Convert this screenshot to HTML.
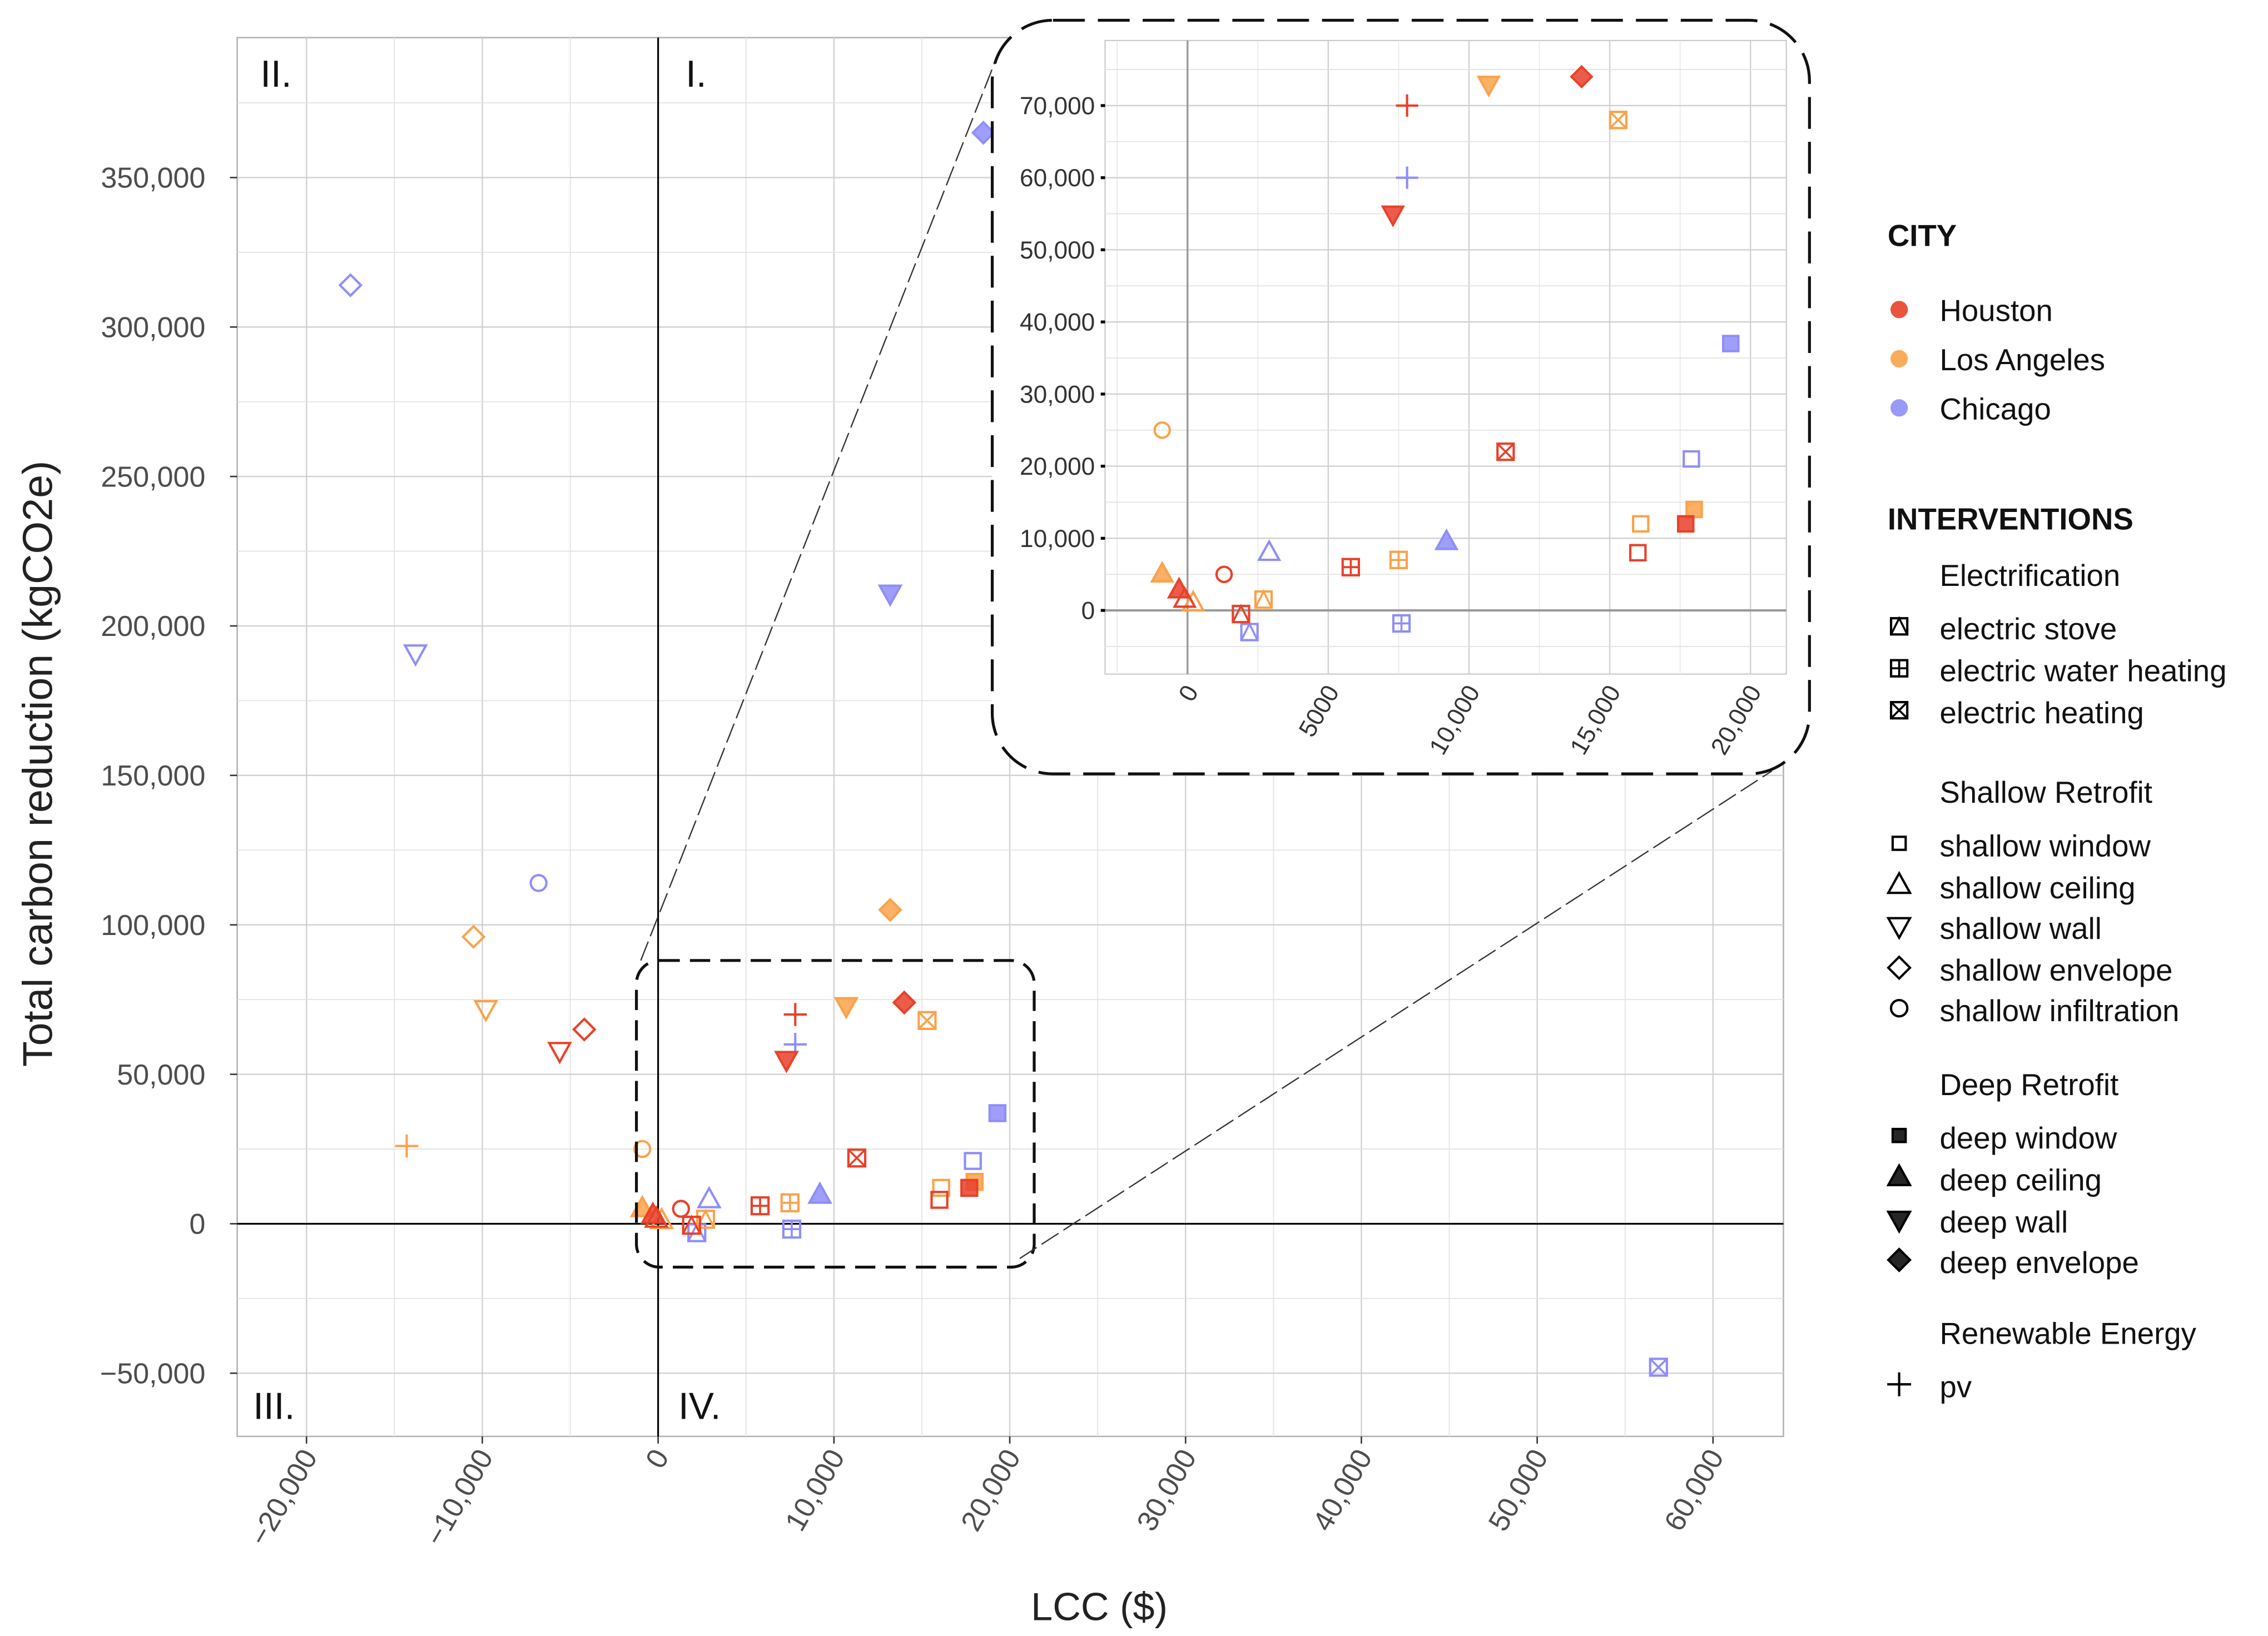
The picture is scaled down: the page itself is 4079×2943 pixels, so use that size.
<!DOCTYPE html>
<html><head><meta charset="utf-8">
<style>
html,body{margin:0;padding:0;background:#fff;}
svg{display:block;font-family:"Liberation Sans",sans-serif;}
</style></head>
<body>
<svg id="chart" width="4079" height="2943" viewBox="0 0 1568 1131" preserveAspectRatio="none" xmlns="http://www.w3.org/2000/svg">
<rect x="0" y="0" width="1568" height="1131" fill="#fff"/>
<g id="main"></g>
<g id="inset"></g>
<g id="legend"></g>
</svg>
<script>
const cities = ["Houston","Los Angeles","Chicago"];
const cityColors = ["#E8412A","#F9A24A","#8E8EF8"];
const pointCity = [2,2,2,2,2,2,2,2,2,2,2,2,2, 1,1,1,1,1,1,1,1,1,1,1,1,1, 0,0,0,0,0,0,0,0,0,0,0,0,0];
const pointType = [
"shallow envelope","shallow wall","shallow infiltration","deep envelope","deep wall","electric heating","pv","deep window","shallow window","deep ceiling","shallow ceiling","electric water heating","electric stove",
"shallow envelope","shallow wall","pv","shallow infiltration","deep envelope","deep wall","electric heating","shallow window","deep window","electric water heating","electric stove","shallow ceiling","deep ceiling",
"shallow envelope","shallow wall","pv","deep wall","deep envelope","electric heating","electric water heating","shallow window","deep window","shallow infiltration","deep ceiling","electric stove","shallow ceiling"];
const pointLCC = [
-17500,-13800,-6800,18500,13200,56900,7800,19300,17900,9200,2900,7600,2200,
-10500,-9800,-14300,-900,13200,10700,15300,16100,18000,7500,2700,200,-900,
-4200,-5600,7800,7300,14000,11300,5800,16000,17700,1300,-300,1900,-100];
const pointCO2 = [
314000,191000,114000,365000,211000,-48000,60000,37000,21000,9500,8000,-1800,-3000,
96000,72000,26000,25000,105000,73000,68000,12000,14000,7000,1500,1000,5000,
65000,58000,70000,55000,74000,22000,6000,8000,12000,5000,2800,-500,1500];
const mainXTicks = [-20000,-10000,0,10000,20000,30000,40000,50000,60000];
const mainXLabels = ["\u221220,000","\u221210,000","0","10,000","20,000","30,000","40,000","50,000","60,000"];
const mainYTicks = [-50000,0,50000,100000,150000,200000,250000,300000,350000];
const mainYLabels = ["\u221250,000","0","50,000","100,000","150,000","200,000","250,000","300,000","350,000"];
const insetXTicks = [0,5000,10000,15000,20000];
const insetXLabels = ["0","5000","10,000","15,000","20,000"];
const insetYTicks = [0,10000,20000,30000,40000,50000,60000,70000];
const insetYLabels = ["0","10,000","20,000","30,000","40,000","50,000","60,000","70,000"];

const NS="http://www.w3.org/2000/svg";
function mk(tag,attrs,parent){const e=document.createElementNS(NS,tag);for(const k in attrs)e.setAttribute(k,attrs[k]);if(parent)parent.appendChild(e);return e;}

function marker(g,type,cx,cy,s,color){
  const grp=mk("g",{},g);
  
  
  const filled=type.startsWith("deep");
  const st={fill:filled?color:"none",stroke:color,"stroke-width":1.6,"fill-opacity":filled?0.85:0};
  const h=s/2;
  const base=Object.assign({},st);
  if(type.endsWith("window")){mk("rect",Object.assign({x:cx-h*0.75,y:cy-h*0.75,width:s*0.75,height:s*0.75},base),grp);}
  else if(type.endsWith("ceiling")){mk("polygon",Object.assign({points:`${cx},${cy-h*1.1} ${cx-h},${cy+h*0.7} ${cx+h},${cy+h*0.7}`},base),grp);}
  else if(type.endsWith("wall")){mk("polygon",Object.assign({points:`${cx},${cy+h*1.1} ${cx-h},${cy-h*0.7} ${cx+h},${cy-h*0.7}`},base),grp);}
  else if(type.endsWith("envelope")){mk("polygon",Object.assign({points:`${cx},${cy-h} ${cx+h},${cy} ${cx},${cy+h} ${cx-h},${cy}`},base),grp);}
  else if(type.endsWith("infiltration")){mk("circle",Object.assign({cx:cx,cy:cy,r:h*0.75},base),grp);}
  else if(type==="pv"){mk("path",{d:`M${cx-h*1.1},${cy}H${cx+h*1.1}M${cx},${cy-h*1.1}V${cy+h*1.1}`,stroke:color,"stroke-width":1.6,fill:"none"},grp);}
  else {
    const r=h*0.8;
    mk("rect",{x:cx-r,y:cy-r,width:2*r,height:2*r,fill:"none",stroke:color,"stroke-width":1.6},grp);
    let d="";
    if(type==="electric stove") d=`M${cx-r},${cy+r}L${cx},${cy-r}L${cx+r},${cy+r}`;
    else if(type==="electric water heating") d=`M${cx-r},${cy}H${cx+r}M${cx},${cy-r}V${cy+r}`;
    else d=`M${cx-r},${cy-r}L${cx+r},${cy+r}M${cx+r},${cy-r}L${cx-r},${cy+r}`;
    mk("path",{d:d,stroke:color,"stroke-width":1.4,fill:"none"},grp);
  }
}

/* main plot */
const M=document.getElementById("main");
const L=164,R=1233,T=26,B=993;
const mx=v=>455+v*0.012155;
const my=v=>846-v*0.0020664;
mk("rect",{x:L,y:T,width:R-L,height:B-T,fill:"#fff",stroke:"#b3b3b3","stroke-width":1},M);
for(let v=-20000;v<=60000;v+=5000){mk("line",{x1:mx(v),x2:mx(v),y1:T,y2:B,stroke:v%10000?"#e3e3e3":"#d0d0d0","stroke-width":v%10000?0.7:0.9},M);}
for(let v=-50000;v<=375000;v+=25000){mk("line",{x1:L,x2:R,y1:my(v),y2:my(v),stroke:v%50000?"#e3e3e3":"#d0d0d0","stroke-width":v%50000?0.7:0.9},M);}
mk("line",{x1:mx(0),x2:mx(0),y1:T,y2:B,stroke:"#000","stroke-width":1.2},M);
mk("line",{x1:L,x2:R,y1:my(0),y2:my(0),stroke:"#000","stroke-width":1.2},M);
mainXTicks.forEach((v,i)=>{
  mk("line",{x1:mx(v),x2:mx(v),y1:B,y2:B+5,stroke:"#333"},M);
  const t=mk("text",{x:mx(v)+8,y:B+14,"text-anchor":"end","font-size":20,fill:"#4d4d4d",transform:`rotate(-60 ${mx(v)+8} ${B+14})`},M);
  t.textContent=mainXLabels[i];
  
  
});
mainYTicks.forEach((v,i)=>{
  mk("line",{x1:L-5,x2:L,y1:my(v),y2:my(v),stroke:"#333"},M);
  const t=mk("text",{x:L-22,y:my(v)+7,"text-anchor":"end","font-size":20,fill:"#4d4d4d"},M);
  t.textContent=mainYLabels[i];
  
  
});
[["II.",180,60],["I.",474,60],["III.",175,981],["IV.",469,981]].forEach(q=>{
  const t=mk("text",{x:q[1],y:q[2],"font-size":26,fill:"#111"},M);t.textContent=q[0];
  
  
});
let t=mk("text",{x:760,y:1120,"text-anchor":"middle","font-size":27,fill:"#222"},M);t.textContent="LCC ($)";


t=mk("text",{x:36,y:528,"text-anchor":"middle","font-size":29,fill:"#222",transform:"rotate(-90 36 528)"},M);t.textContent="Total carbon reduction (kgCO2e)";


for(let i=0;i<pointLCC.length;i++){marker(M,pointType[i],mx(pointLCC[i]),my(pointCO2[i]),14.5,cityColors[pointCity[i]]);}
/* zoom box and connectors */
const zb=mk("rect",{x:440,y:664,width:275,height:212,rx:16,fill:"none",stroke:"#111","stroke-width":2,"stroke-dasharray":"14 7"},M);


mk("line",{x1:443,y1:664,x2:689,y2:40,stroke:"#333","stroke-width":0.9,"stroke-dasharray":"14 4"},M);
mk("line",{x1:705,y1:870,x2:1225,y2:533,stroke:"#333","stroke-width":0.9,"stroke-dasharray":"14 4"},M);

/* inset */
const I=document.getElementById("inset");
const bg=mk("rect",{x:686,y:14,width:565,height:521,rx:42,fill:"#fff",stroke:"#111","stroke-width":2,"stroke-dasharray":"22 9"},I);


const iL=764,iR=1235,iT=28,iB=466;
const ix=v=>821+v*0.01946;
const iy=v=>422-v*0.004986;
mk("rect",{x:iL,y:iT,width:iR-iL,height:iB-iT,fill:"#fff",stroke:"#c8c8c8","stroke-width":0.8},I);
for(let v=-2500;v<=20000;v+=2500){mk("line",{x1:ix(v),x2:ix(v),y1:iT,y2:iB,stroke:v%5000?"#e8e8e8":"#d0d0d0","stroke-width":v%5000?0.6:0.9},I);}
for(let v=-5000;v<=75000;v+=5000){mk("line",{x1:iL,x2:iR,y1:iy(v),y2:iy(v),stroke:v%10000?"#e2e2e2":"#cfcfcf","stroke-width":v%10000?0.7:0.9},I);}
mk("line",{x1:ix(0),x2:ix(0),y1:iT,y2:iB,stroke:"#9a9a9a","stroke-width":1.3},I);
mk("line",{x1:iL,x2:iR,y1:iy(0),y2:iy(0),stroke:"#9a9a9a","stroke-width":1.6},I);
insetXTicks.forEach((v,i)=>{
  const t=mk("text",{x:ix(v)+8,y:iB+12,"text-anchor":"end","font-size":17,fill:"#333",transform:`rotate(-60 ${ix(v)+8} ${iB+12})`},I);
  t.textContent=insetXLabels[i];
  
  
});
insetYTicks.forEach((v,i)=>{
  mk("rect",{x:iL-3,y:iy(v)-1,width:3,height:2,fill:"#000"},I);
  const t=mk("text",{x:iL-7,y:iy(v)+6,"text-anchor":"end","font-size":17,fill:"#333"},I);
  t.textContent=insetYLabels[i];
  
  
});
for(let i=0;i<pointLCC.length;i++){
  const x=pointLCC[i],y=pointCO2[i];
  if(x<-2900||x>21200||y<-8800||y>79000)continue;
  marker(I,pointType[i],ix(x),iy(y),14,cityColors[pointCity[i]]);
}

/* legend */
const G=document.getElementById("legend");
function txt(s,x,y,size,weight,name){const t=mk("text",{x:x,y:y,"font-size":size,"font-weight":weight,fill:"#111"},G);t.textContent=s;return t;}
txt("CITY",1305,170,21,"bold","legend-title-city");
cities.forEach((c,i)=>{const y=214+i*34;mk("circle",{cx:1313,cy:y,r:6,fill:cityColors[i],"fill-opacity":0.9},G);txt(c,1341,y+8,21,"normal","legend-entry-"+c.toLowerCase().replace(' ','-'));});
txt("INTERVENTIONS",1305,366,21,"bold","legend-title-interventions");
const groups=[["Electrification",405,[["electric stove",435],["electric water heating",464],["electric heating",493]]],
["Shallow Retrofit",555,[["shallow window",585],["shallow ceiling",614],["shallow wall",642],["shallow envelope",671],["shallow infiltration",699]]],
["Deep Retrofit",757,[["deep window",787],["deep ceiling",816],["deep wall",845],["deep envelope",873]]],
["Renewable Energy",929,[["pv",959]]]];
groups.forEach(g=>{
  txt(g[0],1341,g[1],21,"normal","legend-group-"+g[0].toLowerCase().replace(' ','-'));
  g[2].forEach(it=>{const sz=it[0].startsWith("electric")?14:(it[0].endsWith("window")?12:15);marker(G,it[0],1313,it[1]-2,sz,"#000");txt(it[0],1341,it[1]+7,21,"normal","legend-entry-"+it[0].replace(/ /g,'-'));});
});
</script>
</body></html>
